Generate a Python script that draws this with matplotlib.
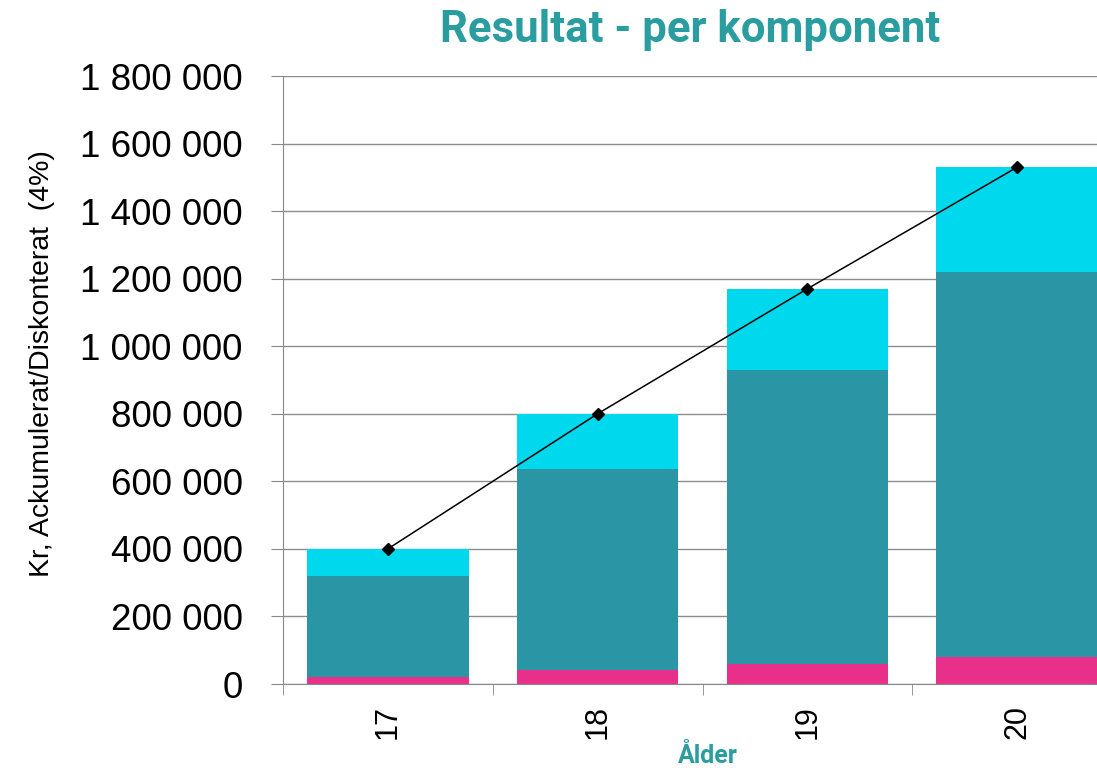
import numpy as np
import matplotlib
matplotlib.use("Agg")
from matplotlib import pyplot as plt
from matplotlib.ticker import FuncFormatter

# data
ages = ["17", "18", "19", "20"]
pink = [20000, 40000, 60000, 80000]
teal = [300000, 596000, 870000, 1140000]
cyan = [80000, 164000, 240000, 310000]
yticks = [0, 200000, 400000, 600000, 800000, 1000000, 1200000, 1400000, 1600000, 1800000]

plt.rcParams['font.family'] = ['Liberation Sans', 'DejaVu Sans']

fig = plt.figure(figsize=(10.97, 7.68), dpi=100)
ax = fig.add_axes([283 / 1097, 84 / 768, 839 / 1097, 608 / 768])

x = np.arange(len(ages))
pink_a = np.array(pink)
teal_a = np.array(teal)
cyan_a = np.array(cyan)
total = pink_a + teal_a + cyan_a

w = 0.77
ax.bar(x, pink_a, w, color="#E8308A", zorder=2)
ax.bar(x, teal_a, w, bottom=pink_a, color="#2A96A5", zorder=2)
ax.bar(x, cyan_a, w, bottom=pink_a + teal_a, color="#00D8EE", zorder=2)
ax.plot(x, total, color="black", lw=1.1, marker="D", ms=6, zorder=3)

ax.set_xlim(-0.5, len(ages) - 0.5)
ax.set_ylim(0, 1800000)
ax.set_yticks(yticks)
ax.yaxis.set_major_formatter(FuncFormatter(lambda v, p: f"{int(v):,}".replace(",", " ")))
ax.tick_params(axis="y", labelsize=26.5, length=9, color="#888888", pad=20)
ax.grid(axis="y", color="#8c8c8c", lw=1, zorder=0)

ax.set_xticks(x)
ax.set_xticklabels(ages, rotation=90, fontsize=22)
ax.tick_params(axis="x", length=0, pad=15)
ax.set_xticks(np.arange(len(ages)) - 0.5, minor=True)
ax.tick_params(axis="x", which="minor", length=8, color="#888888")

for s in ["top", "right"]:
    ax.spines[s].set_visible(False)
for s in ["left", "bottom"]:
    ax.spines[s].set_color("#888888")

ax.set_ylabel("Kr, Ackumulerat/Diskonterat  (4%)", fontsize=20.5)
ax.yaxis.set_label_coords((55 - 283) / 839, (684 - 364) / 608)
fig.text(690 / 1097, 1 - 42 / 768, "Resultat - per komponent", color="#2A9DA0",
         fontsize=31.5, fontweight="bold", family=["Roboto", "DejaVu Sans"], ha="center", va="baseline")
fig.text(708 / 1097, 1 - 756 / 768, "Ålder", color="#2A9DA0",
         fontsize=18, fontweight="bold", family=["Roboto", "DejaVu Sans"], ha="center", va="center")

fig.savefig("out.png", dpi=100)
